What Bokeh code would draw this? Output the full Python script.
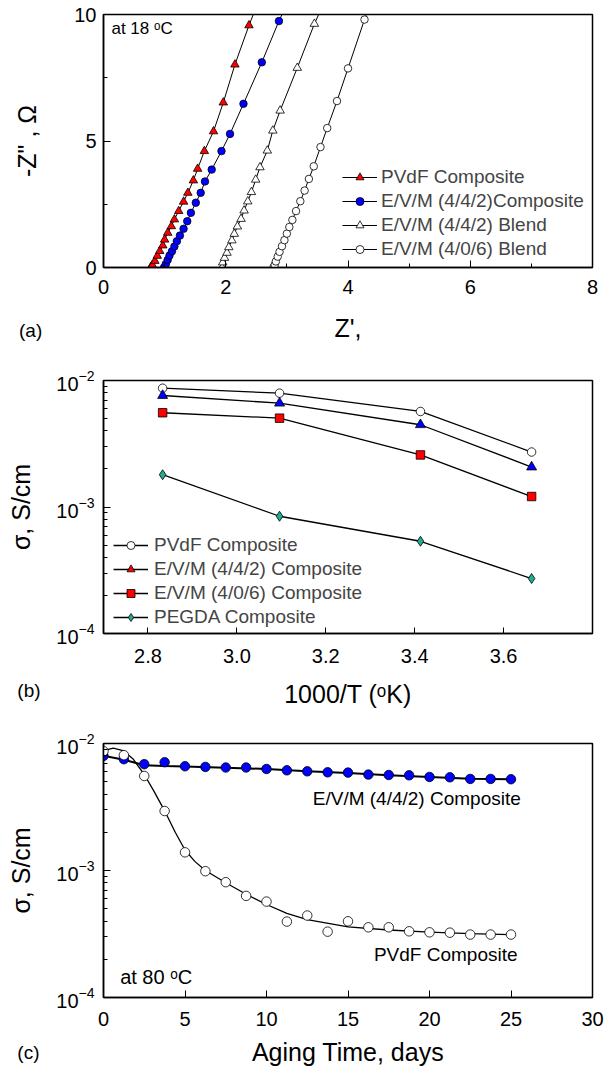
from bokeh.plotting import figure
from bokeh.models import (Range1d, SingleIntervalTicker, FixedTicker, Label, Legend, LegendItem,
                          PrintfTickFormatter)
from bokeh.layouts import column
from bokeh.embed import file_html
from bokeh.resources import INLINE

FONT = "Liberation Sans"

# ---------------- data: panel (a) Nyquist at 18 C ----------------
a_pvdf_x = [0.77, 0.80, 0.84, 0.88, 0.92, 0.97, 1.00, 1.05, 1.11, 1.16, 1.23, 1.31, 1.38, 1.47, 1.54, 1.65, 1.80, 1.96, 2.15, 2.38]
a_pvdf_y = [0.0, 0.10, 0.26, 0.46, 0.65, 0.87, 1.10, 1.37, 1.63, 1.90, 2.23, 2.60, 2.95, 3.44, 3.90, 4.60, 5.38, 6.52, 8.02, 9.57]
a_evm442c_x = [0.99, 1.02, 1.05, 1.08, 1.12, 1.16, 1.20, 1.25, 1.31, 1.37, 1.43, 1.51, 1.59, 1.66, 1.77, 1.93, 2.07, 2.29, 2.59, 2.87]
a_evm442c_y = [0.0, 0.14, 0.30, 0.47, 0.64, 0.83, 1.04, 1.26, 1.53, 1.83, 2.16, 2.56, 2.95, 3.40, 3.87, 4.60, 5.28, 6.47, 8.11, 9.74]
a_evm442b_x = [1.94, 1.95, 1.98, 2.02, 2.05, 2.10, 2.14, 2.19, 2.25, 2.30, 2.36, 2.42, 2.49, 2.56, 2.68, 2.77, 2.89, 3.17, 3.45]
a_evm442b_y = [0.0, 0.20, 0.38, 0.58, 0.80, 1.07, 1.33, 1.62, 1.92, 2.25, 2.61, 2.98, 3.47, 3.96, 4.62, 5.41, 6.20, 7.89, 9.63]
a_evm406b_x = [2.78, 2.80, 2.82, 2.85, 2.88, 2.92, 2.96, 3.00, 3.04, 3.09, 3.15, 3.22, 3.29, 3.36, 3.44, 3.55, 3.66, 3.82, 4.00, 4.27]
a_evm406b_y = [0.0, 0.10, 0.24, 0.43, 0.62, 0.84, 1.08, 1.34, 1.60, 1.88, 2.23, 2.62, 3.04, 3.50, 4.00, 4.76, 5.51, 6.58, 7.87, 9.80]
# where each curve leaves the top of the frame (Z'' = 10)
a_line_top_x = [2.45, 2.92, 3.52, 4.30]
a_line_top_y = 10.0
a_labels = ["PVdF Composite", "E/V/M (4/4/2)Composite", "E/V/M (4/4/2) Blend", "E/V/M (4/0/6) Blend"]

# ---------------- data: panel (b) Arrhenius ----------------
b_invT = [2.833, 3.096, 3.413, 3.663]
b_pvdf = [8.69e-3, 7.94e-3, 5.69e-3, 2.72e-3]
b_evm442 = [7.61e-3, 6.62e-3, 4.47e-3, 2.07e-3]
b_evm406 = [5.56e-3, 5.04e-3, 2.58e-3, 1.21e-3]
b_pegda = [1.80e-3, 8.45e-4, 5.36e-4, 2.72e-4]
b_labels = ["PVdF Composite", "E/V/M (4/4/2) Composite", "E/V/M (4/0/6) Composite", "PEGDA Composite"]

# ---------------- data: panel (c) aging at 80 C ----------------
c_days = [0, 1.25, 2.5, 3.75, 5, 6.25, 7.5, 8.75, 10, 11.25, 12.5, 13.75, 15, 16.25, 17.5, 18.75, 20, 21.25, 22.5, 23.75, 25]
c_evm442 = [7.98e-3, 7.52e-3, 6.87e-3, 7.12e-3, 6.62e-3, 6.54e-3, 6.47e-3, 6.47e-3, 6.30e-3, 6.15e-3, 6.04e-3,
            5.93e-3, 5.90e-3, 5.69e-3, 5.65e-3, 5.62e-3, 5.45e-3, 5.42e-3, 5.26e-3, 5.26e-3, 5.23e-3]
c_pvdf = [8.69e-3, 8.09e-3, 5.55e-3, 2.94e-3, 1.39e-3, 9.87e-4, 8.09e-4, 6.31e-4, 5.69e-4, 3.96e-4, 4.42e-4,
          3.30e-4, 3.98e-4, 3.57e-4, 3.57e-4, 3.32e-4, 3.26e-4, 3.24e-4, 3.13e-4, 3.13e-4, 3.13e-4]
# fitted curves as drawn in the figure
c_fit_evm_days = [0, 1.25, 2.5, 3.75, 5, 7.5, 10, 12.5, 15, 17.5, 20, 22.5, 25]
c_fit_evm = [8.0e-3, 7.45e-3, 6.75e-3, 6.65e-3, 6.6e-3, 6.45e-3, 6.3e-3, 6.05e-3, 5.85e-3, 5.62e-3, 5.45e-3, 5.28e-3, 5.22e-3]
c_fit_pvdf_days = [0, 0.6, 1.2, 1.8, 2.5, 3.1, 3.75, 4.4, 5.0, 5.6, 6.25, 7.5, 8.75, 10, 11.25, 12.5, 15, 17.5, 20, 22.5, 25]
c_fit_pvdf = [8.8e-3, 9.2e-3, 8.8e-3, 7.6e-3, 5.7e-3, 4.2e-3, 2.95e-3, 2.0e-3, 1.45e-3, 1.18e-3, 1.0e-3, 8.0e-4,
              6.5e-4, 5.4e-4, 4.6e-4, 4.1e-4, 3.6e-4, 3.4e-4, 3.27e-4, 3.18e-4, 3.12e-4]

log_major = [1e-4, 1e-3, 1e-2]
log_minor = [m * d for d in (1e-4, 1e-3) for m in range(2, 10)]

W = 615


def style(p, xlab, ylab, y_tick_standoff, y_standoff, x_tick_standoff, x_label_standoff):
    p.xgrid.visible = False
    p.ygrid.visible = False
    p.outline_line_color = "black"
    p.outline_line_width = 1.5
    p.background_fill_color = "white"
    p.border_fill_color = "white"
    for ax in (p.xaxis[0], p.yaxis[0]):
        ax.axis_line_color = "black"
        ax.axis_line_width = 1.5
        ax.major_tick_line_color = "black"
        ax.minor_tick_line_color = "black"
        ax.major_tick_out = 0
        ax.minor_tick_out = 0
        ax.major_tick_in = 7
        ax.minor_tick_in = 4
        ax.major_label_text_font = FONT
        ax.major_label_text_font_size = "20px"
        ax.major_label_text_color = "black"
        ax.axis_label_text_font = FONT
        ax.axis_label_text_font_size = "25px"
        ax.axis_label_text_font_style = "normal"
        ax.axis_label_text_color = "black"
    p.xaxis[0].axis_label = xlab
    p.yaxis[0].axis_label = ylab
    p.xaxis[0].major_label_standoff = x_tick_standoff
    p.xaxis[0].axis_label_standoff = x_label_standoff
    p.yaxis[0].major_label_standoff = y_tick_standoff
    p.yaxis[0].axis_label_standoff = y_standoff


def text(p, x, y, s, size, align="left"):
    p.add_layout(Label(x=x, y=y, text=s, text_font=FONT, text_font_size=size,
                       text_align=align, text_baseline="middle", text_color="black"))


def letter(p, x, y, s, side):
    # panel letter lives outside the frame, so it is kept in a side panel (not clipped)
    p.add_layout(Label(x=x, y=y, text=s, text_font=FONT, text_font_size="19px",
                       text_baseline="middle", text_color="black"), side)


# ---------------- panel (a): frame x 102..594, y 14..267 ----------------
pa = figure(width=W, height=367, output_backend="svg", toolbar_location=None,
            x_range=Range1d(0, 8), y_range=Range1d(0, 10),
            min_border_left=102, min_border_right=21, min_border_top=14, min_border_bottom=100)
style(pa, "Z',", '-Z" , Ω', 7, 30, 12, 17)
pa.xaxis[0].ticker = SingleIntervalTicker(interval=2, num_minor_ticks=2)
pa.yaxis[0].ticker = SingleIntervalTicker(interval=5, num_minor_ticks=2)

a_series = [
    (a_pvdf_x, a_pvdf_y, "triangle", "red", 8.5),
    (a_evm442c_x, a_evm442c_y, "circle", "blue", 7.5),
    (a_evm442b_x, a_evm442b_y, "triangle", "white", 8.5),
    (a_evm406b_x, a_evm406b_y, "circle", "white", 7.5),
]
items = []
for i, (xs, ys, mk, fc, sz) in enumerate(a_series):
    lr = pa.line(xs + [a_line_top_x[i]], ys + [a_line_top_y], line_color="black", line_width=1)
    sr = pa.scatter(xs, ys, marker=mk, size=sz, fill_color=fc, line_color="black", line_width=0.8)
    items.append(LegendItem(label=a_labels[i], renderers=[lr, sr]))
leg_a = Legend(items=items, location=(239, 7), glyph_width=35, glyph_height=20, label_height=21,
               spacing=2, label_standoff=4, padding=0, margin=0, border_line_color=None,
               background_fill_alpha=0, label_text_font=FONT, label_text_font_size="19px")
pa.add_layout(leg_a, "center")
text(pa, 0.13, 9.45, "at 18 ᵒC", "17px")
letter(pa, (17 - 102) / 61.5, (267 - 330) / 25.3, "(a)", "below")

# ---------------- panel (b): frame x 103..~591, y 380..633 ----------------
pb = figure(width=W, height=346, output_backend="svg", toolbar_location=None,
            x_range=Range1d(2.7, 3.8), y_range=Range1d(1e-4, 1e-2), y_axis_type="log",
            min_border_left=103, min_border_right=20, min_border_top=13, min_border_bottom=80)
style(pb, "1000/T (ᵒK)", "σ, S/cm", 9, 18, 15, 14)
pb.xaxis[0].ticker = SingleIntervalTicker(interval=0.2, num_minor_ticks=0)
pb.xaxis[0].formatter = PrintfTickFormatter(format="%.1f")
pb.xaxis[0].major_tick_in = 6
pb.yaxis[0].ticker = FixedTicker(ticks=log_major, minor_ticks=log_minor)

nan = float("nan")
b_series = [
    (b_pvdf, "circle", "white", 8.5, "white"),
    (b_evm442, "triangle", "blue", 10, "red"),
    (b_evm406, "square", "red", 8.5, "red"),
    (b_pegda, "diamond", "#1fae8e", 10, "#1fae8e"),
]
items = []
for i, (ys, mk, fc, sz, legc) in enumerate(b_series):
    lr = pb.line(b_invT, ys, line_color="black", line_width=1.3)
    sr = pb.scatter(b_invT, ys, marker=mk, size=sz, fill_color=fc, line_color="black", line_width=0.8)
    if legc != fc:
        leg_r = pb.scatter(x=[nan], y=[nan], marker=mk, size=sz, fill_color=legc, line_color="black",
                           line_width=0.8)
    else:
        leg_r = sr
    items.append(LegendItem(label=b_labels[i], renderers=[lr, leg_r]))
leg_b = Legend(items=items, location=(10, 5), glyph_width=35, glyph_height=20, label_height=21,
               spacing=2, label_standoff=6, padding=0, margin=0, border_line_color=None,
               background_fill_alpha=0, label_text_font=FONT, label_text_font_size="19px")
pb.add_layout(leg_b, "center")
letter(pb, 2.7 + (17 - 103) / 443.6, 10 ** (-4 - (690 - 633) / 126.5), "(b)", "right")

# ---------------- panel (c): frame x 103..~591, y 743..997 ----------------
pc = figure(width=W, height=358, output_backend="svg", toolbar_location=None,
            x_range=Range1d(0, 30), y_range=Range1d(1e-4, 1e-2), y_axis_type="log",
            min_border_left=103, min_border_right=20, min_border_top=30, min_border_bottom=74)
style(pc, "Aging Time, days", "σ, S/cm", 9, 18, 14, 9)
pc.xaxis[0].ticker = SingleIntervalTicker(interval=5, num_minor_ticks=0)
pc.yaxis[0].ticker = FixedTicker(ticks=log_major, minor_ticks=log_minor)

pc.line(c_fit_evm_days, c_fit_evm, line_color="black", line_width=2)
pc.line(c_fit_pvdf_days, c_fit_pvdf, line_color="black", line_width=1.3)
pc.scatter(c_days, c_evm442, marker="circle", size=9.5, fill_color="blue", line_color="black", line_width=0.8)
pc.scatter(c_days, c_pvdf, marker="circle", size=9.5, fill_color="white", line_color="black", line_width=0.8)
text(pc, 25.6, 3.68e-3, "E/V/M (4/4/2) Composite", "19px", align="right")
text(pc, 25.4, 2.2e-4, "PVdF Composite", "19px", align="right")
text(pc, 1.02, 1.46e-4, "at 80 ᵒC", "20px")
letter(pc, (17 - 103) / 16.27, 10 ** (-4 - (1052 - 997) / 127.0), "(c)", "right")

layout = column(pa, pb, pc, spacing=0)
open("out.html", "w").write(file_html(layout, INLINE))
